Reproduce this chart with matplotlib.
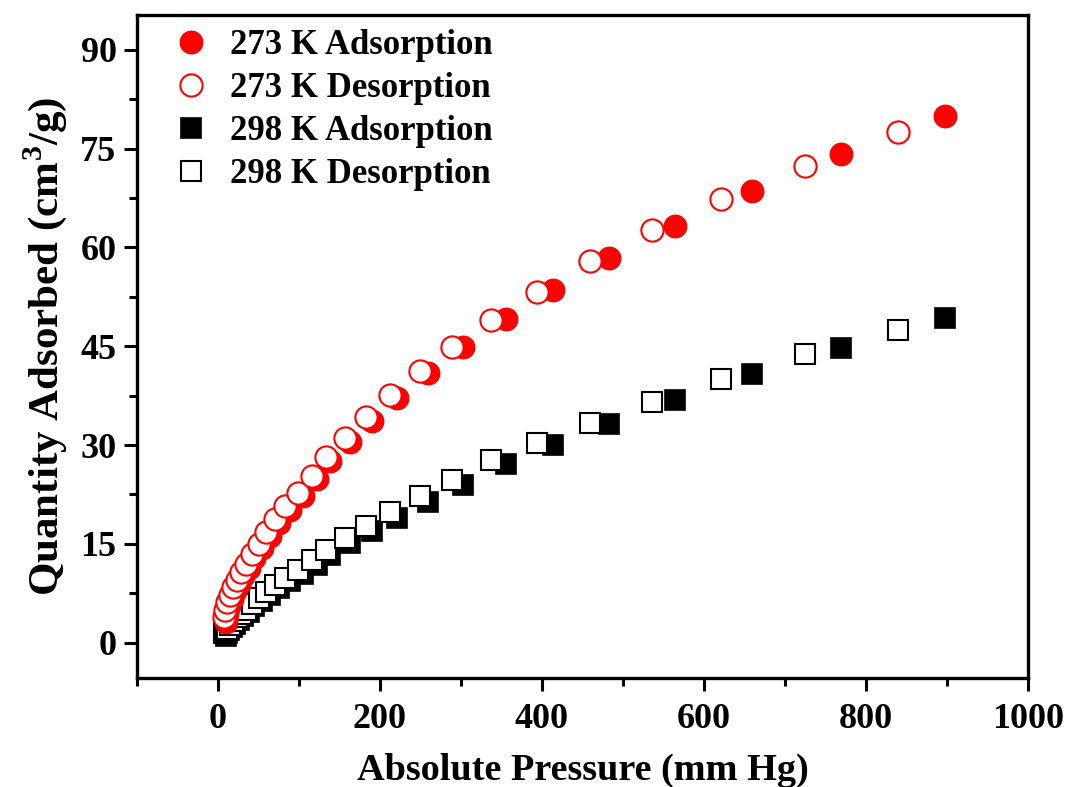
import numpy as np
import matplotlib
matplotlib.use('Agg')
from matplotlib import pyplot as plt
from matplotlib.ticker import MultipleLocator

# pressure points (mm Hg)
p_ads = [10, 12, 14, 17, 21, 26, 31, 38, 45, 54, 64, 76, 89, 105, 122, 139,
         163, 190, 221, 260, 303, 356, 414, 483, 564, 659, 769, 898]
p_des = [8.3, 9.5, 11.6, 14.8, 19, 24, 29, 35.4, 42.4, 50.6, 60, 71, 83, 99,
         116, 134, 157, 183, 212, 249, 289, 337, 394, 460, 536, 621, 725, 839]

# quantity adsorbed (cm3/g)
q273_ads = [3.2, 4.4, 5.6, 6.7, 7.8, 8.9, 10.1, 11.4, 12.9, 14.4, 16.2, 18.1,
            20.1, 22.3, 24.8, 27.6, 30.5, 33.7, 37.1, 40.9, 44.9, 49.1, 53.5,
            58.4, 63.3, 68.6, 74.2, 79.9]
q273_des = [3.9, 5.0, 6.2, 7.3, 8.4, 9.5, 10.7, 12.0, 13.5, 15.0, 16.8, 18.8,
            20.7, 22.8, 25.3, 28.2, 31.0, 34.2, 37.6, 41.2, 44.9, 49.0, 53.3,
            57.9, 62.6, 67.3, 72.4, 77.5]
q298_ads = [1.0, 1.5, 1.9, 2.4, 2.9, 3.5, 4.0, 4.7, 5.5, 6.4, 7.3, 8.3, 9.3,
            10.5, 11.8, 13.3, 15.1, 17.0, 19.0, 21.4, 23.9, 27.2, 30.0, 33.2,
            36.9, 40.8, 44.8, 49.3]
q298_des = [1.4, 1.7, 2.1, 2.7, 3.3, 3.9, 4.4, 5.0, 5.9, 6.8, 7.7, 8.8, 9.8,
            11.0, 12.6, 14.0, 15.9, 17.7, 19.9, 22.2, 24.7, 27.7, 30.3, 33.3,
            36.6, 40.0, 43.8, 47.5]

plt.rcParams['font.family'] = 'Liberation Serif'
plt.rcParams['font.weight'] = 'bold'
plt.rcParams['mathtext.fontset'] = 'custom'
plt.rcParams['mathtext.rm'] = 'Liberation Serif:bold'
plt.rcParams['mathtext.bf'] = 'Liberation Serif:bold'

fig = plt.figure(figsize=(10.69, 7.87), dpi=100)
ax = fig.add_axes([0.1279, 0.139, 0.9617 - 0.1279, 0.981 - 0.139])

ms_c = 16
ms_s = 14
ax.plot(p_ads, q298_ads, 's', color='black', ms=ms_s, mew=1.2, zorder=2,
        label='298 K Adsorption')
ax.plot(p_des, q298_des, 's', mfc='white', mec='black', ms=ms_s, mew=1.5,
        zorder=3, label='298 K Desorption')
ax.plot(p_ads, q273_ads, 'o', color='red', ms=ms_c, mew=1.2, zorder=4,
        label='273 K Adsorption')
ax.plot(p_des, q273_des, 'o', mfc='white', mec='red', ms=ms_c, mew=1.5,
        zorder=5, label='273 K Desorption')

ax.set_xlim(-100, 1000)
ax.set_ylim(-5.3, 95.3)
ax.xaxis.set_major_locator(MultipleLocator(200))
ax.xaxis.set_minor_locator(MultipleLocator(100))
ax.yaxis.set_major_locator(MultipleLocator(15))
ax.yaxis.set_minor_locator(MultipleLocator(7.5))
ax.tick_params(which='major', direction='out', length=9.5, width=2.2,
               labelsize=26)
ax.tick_params(axis='x', which='major', pad=9)
ax.tick_params(axis='y', which='major', pad=5)
ax.tick_params(which='minor', direction='out', length=5.5, width=2.2)
for s in ax.spines.values():
    s.set_linewidth(2.4)

ax.set_xlabel('Absolute Pressure (mm Hg)', fontsize=27.5, fontweight='bold',
              labelpad=12)
ax.set_ylabel('Quantity Adsorbed (cm$^{3}$/g)', fontsize=31,
              fontweight='bold', labelpad=8)

h, l = ax.get_legend_handles_labels()
order = [2, 3, 0, 1]
ax.legend([h[i] for i in order], [l[i] for i in order], loc='upper left',
          bbox_to_anchor=(0, 1.016), frameon=False, fontsize=25,
          handletextpad=0.29, labelspacing=0.29, borderaxespad=0.3,
          handlelength=1.7)

fig.savefig('out.png', dpi=100)
